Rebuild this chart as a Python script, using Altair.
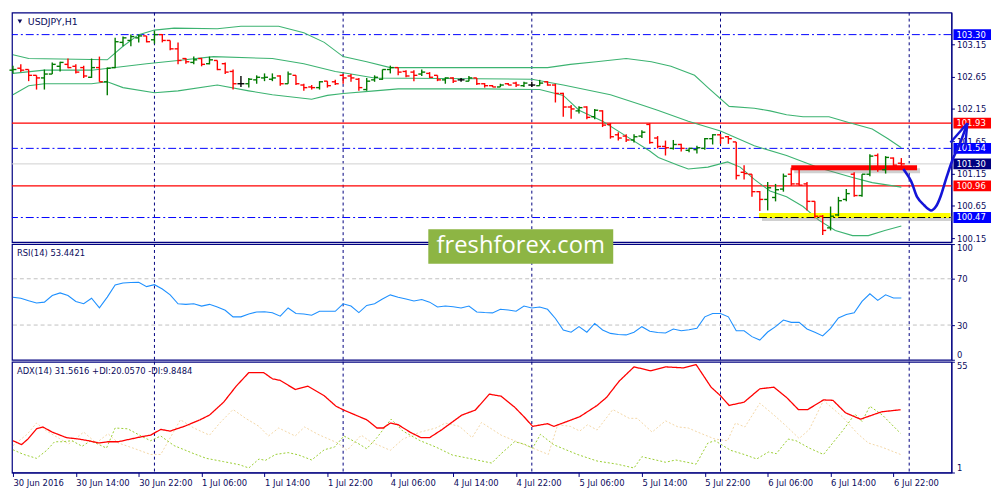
import altair as alt
import pandas as pd

# hourly bars, position 0 = 30 Jun 2016 06:00
bar_open = [102.75, 102.78, 102.76, 102.67, 102.63, 102.69, 102.81, 102.84, 102.81, 102.79,
            102.64, 102.79, 102.57, 102.79, 103.18, 103.21, 103.25, 103.28, 103.22, 103.30,
            103.21, 103.08, 102.93, 102.87, 102.93, 102.85, 102.90, 102.85, 102.73, 102.54,
            102.54, 102.60, 102.63, 102.61, 102.66, 102.54, 102.67, 102.52, 102.49, 102.48,
            102.58, 102.57, 102.67, 102.66, 102.61, 102.45, 102.60, 102.61, 102.76, 102.79,
            102.73, 102.72, 102.69, 102.70, 102.67, 102.60, 102.63, 102.60, 102.58, 102.63,
            102.54, 102.51, 102.49, 102.54, 102.55, 102.51, 102.52, 102.51, 102.57, 102.52,
            102.39, 102.18, 102.12, 102.18, 102.03, 102.12, 101.91, 101.75, 101.73, 101.67,
            101.73, 101.91, 101.70, 101.57, 101.54, 101.60, 101.51, 101.52, 101.54, 101.69,
            101.75, 101.72, 101.64, 101.17, 101.14, 100.87, 100.75, 100.78, 100.91, 101.14,
            100.99, 100.99, 100.72, 100.49, 100.31, 100.51, 100.75, 101.14, 100.81, 101.14,
            101.43, 101.21, 101.39, 101.31]
bar_high = [102.82, 102.84, 102.76, 102.67, 102.76, 102.87, 102.88, 102.93, 102.84, 102.82,
            102.93, 102.96, 102.79, 103.25, 103.27, 103.30, 103.30, 103.28, 103.36, 103.31,
            103.21, 103.18, 102.94, 102.96, 102.94, 102.96, 102.90, 102.87, 102.76, 102.66,
            102.63, 102.67, 102.70, 102.70, 102.67, 102.73, 102.67, 102.54, 102.52, 102.58,
            102.58, 102.60, 102.69, 102.69, 102.63, 102.63, 102.67, 102.76, 102.82, 102.79,
            102.75, 102.75, 102.76, 102.72, 102.67, 102.64, 102.64, 102.63, 102.66, 102.63,
            102.55, 102.52, 102.54, 102.55, 102.57, 102.57, 102.57, 102.60, 102.58, 102.54,
            102.40, 102.21, 102.19, 102.19, 102.15, 102.13, 101.93, 101.79, 101.76, 101.76,
            101.82, 101.93, 101.73, 101.66, 101.67, 101.61, 101.55, 101.58, 101.70, 101.76,
            101.76, 101.73, 101.64, 101.28, 101.14, 100.88, 101.02, 100.99, 101.15, 101.24,
            101.21, 101.02, 100.72, 100.51, 100.64, 100.79, 100.91, 101.17, 101.14, 101.45,
            101.46, 101.42, 101.40, 101.39]
bar_low = [102.70, 102.72, 102.58, 102.45, 102.45, 102.69, 102.73, 102.78, 102.70, 102.63,
           102.63, 102.57, 102.36, 102.78, 103.12, 103.12, 103.18, 103.18, 103.16, 103.18,
           103.06, 102.84, 102.85, 102.84, 102.81, 102.84, 102.75, 102.69, 102.45, 102.49,
           102.48, 102.54, 102.58, 102.58, 102.51, 102.54, 102.52, 102.43, 102.45, 102.45,
           102.48, 102.52, 102.54, 102.57, 102.43, 102.43, 102.57, 102.60, 102.70, 102.67,
           102.64, 102.58, 102.66, 102.63, 102.58, 102.54, 102.55, 102.57, 102.58, 102.52,
           102.48, 102.49, 102.49, 102.52, 102.49, 102.49, 102.49, 102.51, 102.51, 102.25,
           102.03, 102.00, 102.08, 101.99, 101.99, 101.87, 101.69, 101.66, 101.64, 101.63,
           101.70, 101.61, 101.54, 101.43, 101.52, 101.49, 101.48, 101.46, 101.52, 101.60,
           101.61, 101.61, 101.06, 101.06, 100.79, 100.57, 100.58, 100.72, 100.87, 100.96,
           100.96, 100.58, 100.46, 100.20, 100.27, 100.49, 100.72, 100.79, 100.79, 101.11,
           101.18, 101.15, 101.25, 101.25]
bar_close = [102.76, 102.75, 102.67, 102.63, 102.69, 102.84, 102.87, 102.79, 102.72, 102.66,
             102.79, 102.57, 102.78, 103.19, 103.25, 103.27, 103.28, 103.19, 103.30, 103.21,
             103.08, 102.90, 102.88, 102.91, 102.84, 102.91, 102.76, 102.72, 102.54, 102.54,
             102.61, 102.64, 102.64, 102.63, 102.54, 102.69, 102.54, 102.48, 102.48, 102.57,
             102.51, 102.54, 102.63, 102.63, 102.48, 102.58, 102.64, 102.76, 102.79, 102.72,
             102.66, 102.67, 102.72, 102.64, 102.60, 102.63, 102.58, 102.60, 102.63, 102.54,
             102.51, 102.49, 102.52, 102.52, 102.52, 102.55, 102.52, 102.55, 102.52, 102.39,
             102.18, 102.15, 102.17, 102.02, 102.13, 101.90, 101.72, 101.70, 101.67, 101.72,
             101.79, 101.63, 101.57, 101.55, 101.60, 101.54, 101.54, 101.55, 101.69, 101.75,
             101.70, 101.69, 101.12, 101.15, 100.87, 100.75, 100.93, 100.90, 101.11, 100.99,
             100.97, 100.72, 100.49, 100.27, 100.49, 100.73, 100.84, 100.81, 101.14, 101.42,
             101.24, 101.40, 101.28, 101.30]

# Bollinger bands, read at their turning points
bb_upper_pos = [0, 2, 12, 14, 16, 18, 20.5, 26, 29, 33.8, 37, 39.6, 42, 45, 48, 68, 70.9, 74.2,
                78, 81.2, 83.7, 86.7, 88.4, 91.1, 94.3, 96.3, 98.4, 100.5, 103.8, 106.3, 109.3,
                111.3, 113]
bb_upper = [102.99, 102.93, 102.91, 103.12, 103.30, 103.37, 103.40, 103.39, 103.43, 103.43,
            103.33, 103.18, 102.96, 102.88, 102.79, 102.79, 102.84, 102.88, 102.93, 102.88,
            102.81, 102.67, 102.48, 102.19, 102.16, 102.12, 102.06, 102.03, 102.03, 101.94,
            101.84, 101.69, 101.55]
bb_mid_pos = [0, 4, 10, 13, 17, 21, 25.5, 33, 37, 41, 43, 46, 66, 70, 76, 80, 82, 85.9, 90,
              94.3, 98.4, 102.5, 106.8, 109.3, 113]
bb_mid = [102.70, 102.75, 102.75, 102.79, 102.85, 102.90, 102.96, 102.93, 102.85, 102.73,
          102.69, 102.63, 102.61, 102.52, 102.37, 102.21, 102.13, 101.96, 101.81, 101.58,
          101.43, 101.24, 101.09, 101.01, 100.94]
bb_lower_pos = [0, 2, 4, 10, 12, 14, 18, 21, 26, 30, 33, 38, 40, 42, 46, 49, 60, 67, 70, 72, 75,
                78, 81, 82.1, 84.6, 85.9, 88.4, 90.9, 92.5, 94.3, 96.3, 98.4, 100.5, 102.5,
                104.6, 106.8, 108.8, 110.9, 113]
bb_lower = [102.37, 102.51, 102.54, 102.54, 102.57, 102.48, 102.40, 102.43, 102.52, 102.43,
            102.37, 102.30, 102.36, 102.39, 102.43, 102.46, 102.46, 102.45, 102.36, 102.13,
            101.96, 101.73, 101.50, 101.40, 101.28, 101.22, 101.25, 101.33, 101.25, 101.06,
            100.88, 100.79, 100.64, 100.43, 100.27, 100.19, 100.19, 100.27, 100.34]

rsi = [54.1, 53.2, 51.0, 49.0, 49.8, 55.5, 57.8, 55.5, 50.4, 48.4,
       53.2, 44.8, 54.1, 64.6, 66.3, 66.8, 66.9, 63.2, 64.9, 61.2,
       56.1, 48.4, 47.9, 48.4, 46.4, 47.9, 45.6, 42.8, 37.1, 37.1,
       39.5, 41.3, 41.5, 40.7, 37.7, 44.8, 40.0, 39.5, 38.5, 41.9,
       41.9, 41.9, 48.4, 46.4, 40.8, 47.0, 48.4, 52.5, 56.1, 54.0,
       52.5, 50.8, 52.1, 49.8, 45.6, 46.4, 45.8, 44.8, 46.4, 41.3,
       40.8, 40.5, 43.6, 43.0, 41.9, 46.4, 44.8, 45.6, 43.6, 35.7,
       25.7, 23.8, 28.6, 23.8, 31.4, 25.7, 22.8, 21.8, 21.5, 23.8,
       28.6, 24.7, 23.5, 23.2, 26.6, 25.1, 26.0, 27.2, 37.1, 40.0,
       40.0, 37.1, 25.1, 25.1, 20.0, 17.0, 24.0, 28.6, 34.3, 32.3,
       32.3, 26.6, 23.8, 20.6, 27.2, 36.2, 39.1, 40.6, 50.4, 57.0,
       51.3, 56.1, 53.4, 53.4]

adx_pos = [0, 1.1, 1.9, 3, 3.8, 5, 6.8, 8.4, 9.6, 10.9, 12.1, 13.4, 14.6, 16.3, 17.5, 18.8, 20,
           21.8, 23.8, 25, 26.8, 28.4, 30, 31.9, 33, 34, 35.9, 37.5, 39.6, 41.1, 42.1, 45, 46.3,
           47.1, 48, 49, 50.5, 51.9, 53, 54.6, 57.1, 58.8, 60.6, 62.1, 63.8, 65, 66.1, 68,
           68.8, 70.5, 72.1, 74.3, 75.5, 77.1, 79, 81.1, 83, 85.3, 86.9, 88.8, 90, 91.1, 93,
           95, 96.8, 98.4, 99.9, 101.1, 103.1, 104.3, 105.9, 107.8, 109.3, 110.5, 112.9]
adx = [16.5, 14.6, 17.3, 22.3, 23.2, 20.7, 18.0, 17.3, 16.5, 15.4, 16.0, 16.0, 17.0, 18.4, 19.2,
       22.0, 21.2, 23.5, 26.7, 29.0, 35.3, 43.1, 49.7, 49.7, 46.7, 45.9, 41.5, 43.1, 38.4, 33.3,
       31.4, 26.7, 22.7, 22.7, 25.1, 24.3, 20.7, 18.0, 18.0, 22.0, 29.0, 31.4, 39.2, 38.2, 32.9,
       28.2, 23.5, 24.8, 23.5, 25.9, 28.2, 33.7, 37.6, 45.5, 52.5, 50.6, 52.5, 52.0, 53.6, 42.6,
       38.4, 33.7, 35.3, 41.8, 42.6, 37.6, 31.7, 31.7, 36.4, 36.2, 30.1, 27.0, 29.0, 30.6, 31.6]
plus_di_pos = [0, 1.3, 3, 4.3, 5.3, 6.3, 7.5, 8.8, 9.9, 11.9, 13, 14.6, 16.3, 17.5, 18.8, 20.5,
               23, 24.6, 26.8, 28.8, 30, 31.3, 32.1, 33.4, 35, 36.3, 38, 39.6, 40.9, 42.1, 43.8,
               45, 46.3, 48.1, 49.6, 51.8, 53.8, 55.9, 58, 60.9, 62.1, 63.8, 65, 66.1, 67.1,
               68.8, 71.8, 74.3, 76.8, 79, 80, 83, 84.3, 86.9, 88.4, 89.3, 91.3, 93, 94.6,
               96.1, 97.1, 98.6, 99.6, 101.3, 103.1, 105.5, 107.1, 108, 109, 110.6, 111.8, 112.9]
plus_di = [12.1, 9.9, 7.9, 11.8, 16.0, 16.0, 16.5, 13.8, 16.5, 12.9, 22.7, 22.3, 18.8, 16.5,
           18.8, 14.1, 10.2, 7.9, 6.3, 4.8, 3.2, 7.6, 6.9, 9.8, 10.7, 9.6, 7.1, 12.1, 13.4, 18.8,
           15.4, 12.6, 18.0, 27.0, 21.2, 16.5, 13.4, 9.5, 7.9, 5.6, 10.2, 16.0, 14.9, 12.9, 19.6,
           14.5, 9.8, 6.6, 5.1, 3.2, 8.7, 6.0, 7.1, 5.1, 15.4, 16.5, 11.8, 9.8, 7.6, 11.0, 10.2,
           17.3, 16.5, 12.9, 9.8, 21.2, 29.5, 25.9, 33.3, 29.0, 24.3, 20.1]
minus_di_pos = [0, 1.8, 3, 4.3, 5.9, 7.1, 9, 10.6, 12.1, 13.4, 15.5, 17.5, 18.8, 21.3, 23, 25,
                26.3, 28, 29.6, 31.3, 32.5, 33.8, 35.9, 37.1, 38.8, 41.3, 42.5, 44.3, 45.5, 48,
                49.6, 51.8, 53.8, 55, 56.8, 58.4, 59.6, 62.1, 63.8, 66.3, 68.1, 69.3, 70.9,
                72.1, 73.1, 74.3, 76.3, 78.4, 79.4, 81.3, 83, 84.6, 85.9, 87.1, 89.3, 90.9,
                91.9, 93.1, 95, 96.8, 98.4, 100, 101.3, 103.1, 105.5, 107.4, 108.8, 110.5, 112.9]
minus_di = [14.1, 19.6, 25.1, 21.2, 17.6, 14.9, 20.7, 15.4, 19.9, 15.4, 12.6, 9.8, 9.8, 26.7,
            22.7, 19.2, 25.1, 31.7, 27.4, 23.5, 18.8, 22.7, 18.8, 23.2, 19.6, 15.4, 11.8, 19.2,
            16.0, 11.8, 17.3, 20.7, 22.7, 25.1, 23.5, 18.0, 25.4, 19.2, 16.5, 12.6, 9.8, 24.3,
            23.5, 21.2, 24.3, 21.7, 31.7, 27.4, 27.4, 20.7, 26.2, 23.2, 22.7, 20.7, 17.3, 16.5,
            25.1, 23.2, 34.8, 29.0, 23.5, 17.6, 22.0, 36.1, 28.2, 20.1, 15.4, 13.4, 9.8]

day_starts = [18, 42, 66, 90, 114]
time_ticks = [0, 8, 16, 24, 32, 40, 48, 56, 64, 72, 80, 88, 96, 104, 112]
time_labels = ["30 Jun 2016", "30 Jun 14:00", "30 Jun 22:00", "1 Jul 06:00", "1 Jul 14:00",
               "1 Jul 22:00", "4 Jul 06:00", "4 Jul 14:00", "4 Jul 22:00", "5 Jul 06:00",
               "5 Jul 14:00", "5 Jul 22:00", "6 Jul 06:00", "6 Jul 14:00", "6 Jul 22:00"]
price_ticks = [100.15, 100.65, 101.15, 101.65, 102.15, 102.65, 103.15]

blue_levels = [103.30, 101.54, 100.47]
red_levels = [101.93, 100.96]
bid_price = 101.30
tag_prices = [103.30, 101.93, 101.54, 101.30, 100.96, 100.47]
tag_colors = ["#0000ff", "#ff0000", "#0000ff", "#000080", "#ff0000", "#0000ff"]

# drawn objects
resist_start, resist_end, resist_price = 99, 115, 101.24
support_start, support_end, support_price = 94.9, 119.25, 100.50
path_pos = [113.25, 114.25, 115, 115.9, 116.75, 117.4, 118, 118.75, 119.6, 120.5, 121.4]
path_price = [101.22, 101.03, 100.79, 100.66, 100.58, 100.64, 100.80, 101.09, 101.39, 101.63, 101.93]
arrow_tip_pos, arrow_tip_price = 121.4, 101.93
arrow_end_pos = [119.25, 121.1]
arrow_end_price = [101.63, 101.55]

W = 950
H_PRICE, H_RSI, H_ADX = 232, 117, 112
NAVY = "#000080"
TXT = "#0b0b5c"
FONT = "DejaVu Sans"

x_scale = alt.Scale(domain=[-0.125, 119.375], nice=False, zero=False)
price_scale = alt.Scale(domain=[100.09, 103.64], nice=False, zero=False)

price_axis = alt.Axis(orient="right", values=price_ticks, format=".2f", title=None, grid=False,
                      domainColor=NAVY, tickColor=NAVY, tickSize=3, labelColor=TXT,
                      labelFont=FONT, labelFontSize=8.5, labelPadding=2)
label_expr = "[" + ",".join("'%s'" % s for s in time_labels) + "][round(datum.value / 8)]"
time_axis = alt.Axis(values=time_ticks, labelExpr=label_expr, title=None, grid=False,
                     labelAlign="left", labelPadding=2, tickSize=4, tickColor=NAVY,
                     domainColor=NAVY, labelColor=TXT, labelFont=FONT, labelFontSize=8.5,
                     labelOverlap=False, labelBound=False, labelFlush=False)


def px(field, axis=None):
    return alt.X(field, type="quantitative", scale=x_scale, axis=axis)


def py(field):
    return alt.Y(field, type="quantitative", scale=price_scale, axis=price_axis)


def day_grid(axis=None):
    return alt.Chart(pd.DataFrame({"pos": day_starts})).mark_rule(
        color=NAVY, strokeDash=[3, 3], strokeWidth=1).encode(x=px("pos", axis))


def caption(text, x, y, size):
    return alt.Chart(pd.DataFrame({"t": [text]})).mark_text(
        align="left", baseline="middle", font=FONT, fontSize=size, color=TXT
    ).encode(x=alt.value(x), y=alt.value(y), text="t:N")


def segment(start, end, price, color):
    df = pd.DataFrame({"start": [start], "end": [end], "price": [price]})
    shadow = alt.Chart(df).mark_rule(color="#777777", opacity=0.35, strokeWidth=5,
                                     yOffset=3, xOffset=3, x2Offset=3).encode(
        x=px("start"), x2="end:Q", y=py("price"))
    line = alt.Chart(df).mark_rule(color=color, strokeWidth=5).encode(
        x=px("start"), x2="end:Q", y=py("price"))
    return shadow, line


# ---- price panel ----
bars = pd.DataFrame({"pos": range(len(bar_open)), "open": bar_open, "high": bar_high,
                     "low": bar_low, "close": bar_close})
bars_base = alt.Chart(bars).transform_calculate(
    dir="datum.close > datum.open ? 'up' : (datum.close < datum.open ? 'down' : 'flat')")
bar_color = alt.Color("dir:N", legend=None,
                      scale=alt.Scale(domain=["up", "down", "flat"],
                                      range=["#007a00", "#ff0000", "#000000"]))
hl = bars_base.mark_rule(strokeWidth=1.4).encode(x=px("pos"), y=py("low"), y2="high:Q", color=bar_color)
opn = bars_base.mark_rule(strokeWidth=1.4, xOffset=-3.5).encode(
    x=px("pos"), x2="pos:Q", y=py("open"), color=bar_color)
cls = bars_base.mark_rule(strokeWidth=1.4, x2Offset=3.5).encode(
    x=px("pos"), x2="pos:Q", y=py("close"), color=bar_color)

bands = pd.concat([
    pd.DataFrame({"band": "upper", "pos": bb_upper_pos, "price": bb_upper}),
    pd.DataFrame({"band": "mid", "pos": bb_mid_pos, "price": bb_mid}),
    pd.DataFrame({"band": "lower", "pos": bb_lower_pos, "price": bb_lower}),
])
band_lines = alt.Chart(bands).mark_line(color="#3cb371", strokeWidth=1.1).encode(
    x=px("pos"), y=py("price"), detail="band:N")

blue_rules = alt.Chart(pd.DataFrame({"price": blue_levels})).mark_rule(
    color="#0000ff", strokeWidth=1, strokeDash=[8, 3, 2, 3]).encode(y=py("price"))
red_rules = alt.Chart(pd.DataFrame({"price": red_levels})).mark_rule(
    color="#ff0000", strokeWidth=1.2).encode(y=py("price"))
bid_rule = alt.Chart(pd.DataFrame({"price": [bid_price]})).mark_rule(
    color="#cfcfcf", strokeWidth=1).encode(y=py("price"))

support_shadow, support_line = segment(support_start, support_end, support_price, "#ffff00")
resist_shadow, resist_line = segment(resist_start, resist_end, resist_price, "#ff0000")
support_dash = alt.Chart(pd.DataFrame({"start": [support_start], "end": [support_end],
                                       "price": [blue_levels[2]]})).mark_rule(
    color="#000000", strokeWidth=1, strokeDash=[8, 3, 2, 3]).encode(
    x=px("start"), x2="end:Q", y=py("price"))

tags = pd.DataFrame({"price": tag_prices, "box": tag_colors})
tag_boxes = alt.Chart(tags).mark_rect(yOffset=-5.5, y2Offset=5.5).encode(
    x=alt.value(W + 2), x2=alt.value(W + 40), y=py("price"), y2="price:Q",
    fill=alt.Fill("box:N", scale=None))
tag_text = alt.Chart(tags).mark_text(align="left", baseline="middle", color="white",
                                     font=FONT, fontSize=8.5).encode(
    x=alt.value(W + 5), y=py("price"), text=alt.Text("price:Q", format=".2f"))

path = alt.Chart(pd.DataFrame({"pos": path_pos, "price": path_price})).mark_line(
    color="#1414d8", strokeWidth=2.6, interpolate="cardinal").encode(x=px("pos"), y=py("price"))
arrow = alt.Chart(pd.DataFrame({"pos": arrow_end_pos, "price": arrow_end_price,
                                "tip_pos": arrow_tip_pos, "tip_price": arrow_tip_price})).mark_rule(
    color="#1414d8", strokeWidth=2.4).encode(
    x=px("pos"), x2="tip_pos:Q", y=py("price"), y2="tip_price:Q")

symbol = alt.Chart(pd.DataFrame({"t": ["x"]})).mark_point(
    shape="triangle-down", filled=True, size=22, color=TXT, opacity=1).encode(
    x=alt.value(8), y=alt.value(9))

price_panel = alt.layer(
    day_grid(), bid_rule, blue_rules, red_rules, band_lines,
    support_shadow, support_line, support_dash, resist_shadow, resist_line,
    hl, opn, cls, tag_boxes, tag_text, path, arrow, symbol, caption("USDJPY,H1", 16, 9, 9.5)
).properties(width=W, height=H_PRICE)

# ---- RSI panel ----
rsi_scale = alt.Scale(domain=[0, 100], nice=False, zero=False)
rsi_axis = alt.Axis(orient="right", values=[0, 30, 70, 100], title=None, grid=False,
                    domainColor=NAVY, tickColor=NAVY, tickSize=3, labelColor=TXT,
                    labelFont=FONT, labelFontSize=8.5, labelPadding=2, labelFlush=True)
rsi_levels = alt.Chart(pd.DataFrame({"v": [30, 70]})).mark_rule(
    color="#c0c0c0", strokeDash=[4, 3], strokeWidth=1).encode(
    y=alt.Y("v:Q", scale=rsi_scale, axis=rsi_axis))
rsi_line = alt.Chart(pd.DataFrame({"pos": range(len(rsi)), "v": rsi})).mark_line(
    color="#1e90ff", strokeWidth=1.1).encode(x=px("pos"), y=alt.Y("v:Q", scale=rsi_scale, axis=rsi_axis))
rsi_panel = alt.layer(
    day_grid(), rsi_levels, rsi_line, caption("RSI(14) 53.4421", 5, 9, 8.5)
).properties(width=W, height=H_RSI)

# ---- ADX panel ----
adx_scale = alt.Scale(domain=[1, 55], nice=False, zero=False)
adx_axis = alt.Axis(orient="right", values=[1, 55], title=None, grid=False,
                    domainColor=NAVY, tickColor=NAVY, tickSize=3, labelColor=TXT,
                    labelFont=FONT, labelFontSize=8.5, labelPadding=2, labelFlush=True)


def adx_line(pos, vals, color, dash, width):
    return alt.Chart(pd.DataFrame({"pos": pos, "v": vals})).mark_line(
        color=color, strokeDash=dash, strokeWidth=width).encode(
        x=px("pos", time_axis), y=alt.Y("v:Q", scale=adx_scale, axis=adx_axis))


wm = pd.DataFrame({"t": ["freshforex.com"]})
wm_box = alt.Chart(wm).mark_rect(color="#8db544").encode(
    x=alt.value(421), x2=alt.value(608), y=alt.value(-134), y2=alt.value(-99))
wm_text = alt.Chart(wm).mark_text(color="white", font="Open Sans", fontSize=24,
                                  align="center", baseline="middle").encode(
    x=alt.value(514.5), y=alt.value(-117), text="t:N")

adx_panel = alt.layer(
    day_grid(time_axis),
    adx_line(minus_di_pos, minus_di, "#f3d7a6", [2, 2], 1),
    adx_line(plus_di_pos, plus_di, "#9acd32", [2, 2], 1),
    adx_line(adx_pos, adx, "#ff0000", [1, 0], 1.3),
    caption("ADX(14) 31.5616 +DI:20.0570 -DI:9.8484", 5, 9, 8.5),
    wm_box, wm_text
).properties(width=W, height=H_ADX)

chart = alt.vconcat(price_panel, rsi_panel, adx_panel, spacing=2, bounds="flush").properties(
    padding=0, background="white"
).configure_view(stroke=NAVY, strokeWidth=1.2)

chart.save("out.html", embed_options={"renderer": "svg", "actions": False})
